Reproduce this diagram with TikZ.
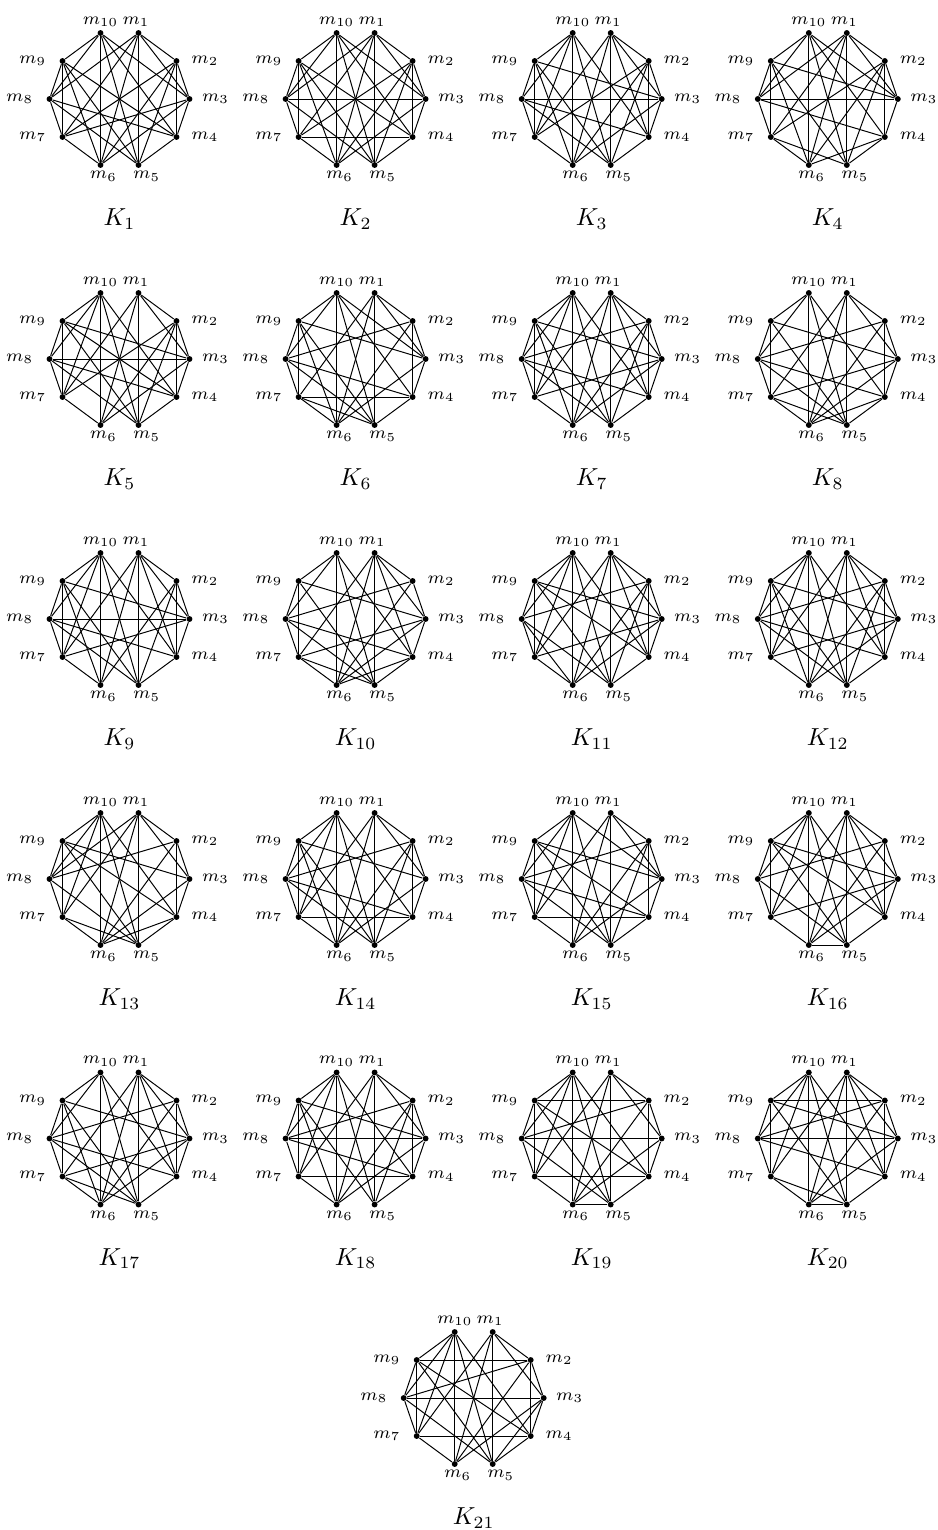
\documentclass[tikz,border=0pt]{standalone}
\begin{document}
\begin{tikzpicture}[x=0.01429cm,y=-0.01429cm, every node/.style={font=\scriptsize}]
  \tikzstyle{v}=[circle,fill=black,inner sep=0pt,minimum size=2.4pt]
  \tikzstyle{e}=[line width=0.4pt]
  \useasboundingbox (0,0) rectangle (938,1530);
  % one graph: name, centre x, centre y, index, edges besides the outer ones
  \newcommand{\kgraph}[5]{%
    \foreach \i/\dx/\dy/\ang/\ld/\sx in {1/19/-66/90/0/-1, 2/57/-38/0/3.5/0, 3/70/0/0/2.5/0, 4/57/38/0/3.5/0,
        5/19/66/-90/0/3.3, 6/-19/66/-90/0/1.2, 7/-57/38/180/4/0, 8/-70/0/180/4/0, 9/-57/-38/180/4/0, 10/-19/-66/90/0/0}
      \node[v,label={[inner sep=1pt,label distance=\ld pt,xshift=\sx pt]\ang:$m_{\i}$}] (#1-\i) at ({#2+\dx},{#3+\dy}) {};
    \foreach \a/\b in {10/9,9/8,8/7,7/6,1/2,2/3,3/4,4/5,#5}
      \draw[e] (#1-\a) -- (#1-\b);
    \node[font=\normalsize] (#1-name) at (#2,{#3+120}) {$K_{#4}$};
  }
  \kgraph{k1}{119.5}{99}{1}{9/7,2/4,10/6,1/5,8/4,3/7,10/8,1/3,10/4,1/7,6/3,5/8,6/2,5/9,10/5,1/6,9/4,2/7,10/3,1/8,9/6,2/5}
  \kgraph{k2}{355.6}{99}{2}{9/7,2/4,10/6,1/5,8/3,7/4,10/8,1/3,10/4,1/7,6/3,5/8,6/2,5/9,10/5,1/6,9/4,2/7,10/3,1/8,9/6,2/5}
  \kgraph{k3}{591.7}{99}{3}{9/7,2/4,10/6,1/5,8/3,9/3,8/4,2/7,10/8,10/7,10/5,10/4,1/3,1/6,1/7,1/4,6/2,6/3,5/9,5/8,2/5,9/6}
  \kgraph{k4}{827.8}{99}{4}{9/7,2/4,10/6,1/5,8/3,9/3,8/4,7/5,6/4,2/5,2/6,2/7,9/5,9/6,10/8,10/4,10/5,10/3,1/3,1/6,1/7,1/8}
  \kgraph{k5}{119.5}{359}{5}{9/7,2/4,10/6,1/5,8/3,9/3,8/4,9/4,10/8,1/3,10/5,1/6,10/4,1/7,6/3,5/8,6/2,5/9,10/7,2/5,2/7}
  \kgraph{k6}{355.6}{359}{6}{9/7,10/6,1/5,2/4,7/4,8/2,8/4,9/3,7/5,10/8,1/3,10/5,1/6,10/4,1/7,6/3,5/8,6/2,5/9,10/3,9/6}
  \kgraph{k7}{591.7}{359}{7}{9/7,2/4,10/6,1/5,9/3,8/2,8/4,7/3,10/8,1/3,10/5,1/6,10/4,1/7,6/3,5/8,6/2,5/9,10/7,1/4,9/6,2/5}
  \kgraph{k8}{827.8}{359}{8}{9/7,2/4,10/6,1/5,9/3,8/2,8/4,7/3,7/5,6/4,10/8,1/3,10/5,1/6,10/4,1/7,6/3,5/8,6/2,5/9}
  \kgraph{k9}{119.5}{619}{9}{9/7,2/4,10/6,1/5,8/3,9/3,8/4,7/3,10/8,1/3,10/5,1/6,10/4,1/7,5/8,6/2,5/9,10/7,1/4,9/6,2/5}
  \kgraph{k10}{355.6}{619}{10}{9/7,10/6,1/5,9/3,8/2,7/3,8/4,7/5,6/4,10/8,1/3,10/5,1/6,10/4,1/7,6/3,5/8,6/2,5/9,1/4}
  \kgraph{k11}{591.7}{619}{11}{9/7,2/4,10/6,1/5,9/3,8/2,7/3,9/4,10/8,1/3,10/5,1/6,10/4,1/7,6/3,5/8,6/2,5/9,10/7,1/4,2/5,6/8}
  \kgraph{k12}{827.8}{619}{12}{9/7,2/4,10/6,1/5,9/3,8/2,8/4,8/5,10/8,1/3,10/5,1/6,10/4,1/7,6/3,6/2,5/9,10/7,1/4,9/6,2/5,7/3}
  \kgraph{k13}{119.5}{879}{13}{9/7,2/4,10/6,1/5,9/3,8/2,9/4,7/5,6/4,10/8,1/3,10/5,1/6,10/4,1/7,6/3,5/8,6/2,5/9,10/7,1/8}
  \kgraph{k14}{355.6}{879}{14}{9/7,2/4,10/6,1/5,7/4,9/3,8/2,8/4,10/8,1/3,10/5,1/6,10/4,1/7,6/3,5/8,6/2,5/9,10/7,9/6,2/5}
  \kgraph{k15}{591.7}{879}{15}{9/7,2/4,10/6,1/5,7/4,9/3,8/2,8/4,9/4,10/8,1/3,10/5,1/6,1/7,6/3,5/8,6/2,5/9,10/7,10/3,2/5}
  \kgraph{k16}{827.8}{879}{16}{9/7,2/4,10/6,1/5,6/5,9/3,8/2,7/3,10/8,1/3,10/5,1/6,10/4,1/7,6/3,5/8,6/2,5/9,10/7,1/4,9/4}
  \kgraph{k17}{119.5}{1138.5}{17}{9/7,2/4,10/6,1/5,9/3,8/2,8/4,7/3,7/5,10/8,1/3,10/5,1/6,10/4,1/7,6/3,5/8,6/2,5/9,1/4,9/6}
  \kgraph{k18}{355.6}{1138.5}{18}{9/7,2/4,10/6,1/5,8/3,7/4,9/3,8/2,8/4,10/8,1/3,10/5,1/6,10/4,1/7,6/3,6/2,5/9,10/7,9/6,2/5}
  \kgraph{k19}{591.7}{1138.5}{19}{9/2,8/3,7/4,6/5,9/7,2/4,10/6,1/5,8/2,9/4,10/8,1/3,10/5,1/6,10/4,1/7,6/3,5/8,6/2,5/9,10/7}
  \kgraph{k20}{827.8}{1138.5}{20}{9/2,8/3,6/5,9/7,2/4,10/6,1/5,8/2,8/4,10/8,1/3,10/5,1/6,10/4,1/7,6/3,6/2,5/9,10/7,1/4,7/5,9/3}
  \kgraph{k21}{473.7}{1398}{21}{9/2,8/3,7/4,9/7,2/4,10/6,1/5,8/2,9/4,10/8,1/3,10/5,1/6,10/4,1/7,6/3,5/8,6/2,5/9,10/7,5/3}
\end{tikzpicture}
\end{document}
